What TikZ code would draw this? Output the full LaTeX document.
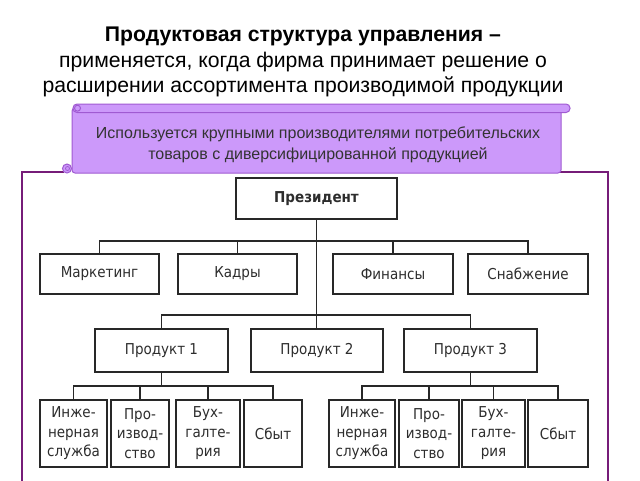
\documentclass[tikz,border=0pt]{standalone}
\usepackage{fontspec}
\setmainfont{Liberation Sans}
\newfontfamily\chartfont{DejaVu Sans Condensed}
\definecolor{scrollfill}{RGB}{204,153,250}
\definecolor{scrollline}{RGB}{160,90,210}
\definecolor{framecol}{RGB}{118,28,120}
\definecolor{chartline}{RGB}{40,40,40}
\definecolor{charttext}{RGB}{45,45,45}
\tikzset{
  scrollpart/.style={fill=scrollfill, draw=scrollline, line width=1pt},
  frameline/.style={draw=framecol, line width=2.5pt},
  box/.style={draw=chartline, line width=1.2pt, inner sep=0pt, align=center,
    text=charttext, font=\chartfont\fontsize{15}{19.5}\selectfont},
  toplevel/.style={box, minimum height=41pt},
  deptbox/.style={box, minimum height=40pt},
  prodbox/.style={box, minimum height=43pt},
  unitbox/.style={box, minimum height=67pt},
  conn/.style={draw=chartline, line width=1.2pt},
  titletext/.style={align=center, font=\fontsize{21.2}{25.5}\selectfont, text=black},
  bannertext/.style={align=center, font=\fontsize{16}{21.5}\selectfont, text=black!80}
}
\begin{document}
\begin{tikzpicture}[x=1pt,y=-1pt]
\clip (0,0) rectangle (640,480);
\fill[white] (0,0) rectangle (640,480);

% title
\node[titletext] (title) at (303,62) {\textbf{Продуктовая структура управления –}\\применяется, когда фирма принимает решение о\\расширении ассортимента производимой продукции};

% frame
\draw[frameline] (64,172) -- (22,172) -- (22,500) -- (608,500) -- (608,172) -- (558,172);

% scroll banner
\filldraw[scrollpart, rounded corners=3pt] (72,108) rectangle (561,173);
\filldraw[scrollpart, rounded corners=4pt] (73,104) rectangle (570,112.5);
\filldraw[scrollpart] (77.5,108.2) circle (3);
\filldraw[scrollpart] (67,168.5) circle (4.5);
\draw[scrollline, line width=0.8pt] (67.5,168.5) circle (2);
\node[bannertext] (banner) at (318,145) {Используется крупными производителями потребительских\\товаров с диверсифицированной продукцией};

% chart nodes
\node[toplevel, minimum width=161pt] (pres) at (316.5,198.5) {\bfseries Президент};

\node[deptbox, minimum width=119pt] (m) at (99.5,274) {Маркетинг};
\node[deptbox, minimum width=119pt] (k) at (237.5,274) {Кадры};
\node[deptbox, minimum width=120pt] (f) at (393,274) {Финансы};
\node[deptbox, minimum width=120pt] (s) at (528,274) {Снабжение};

\node[prodbox, minimum width=133pt] (p1) at (161.5,350.5) {Продукт 1};
\node[prodbox, minimum width=132pt] (p2) at (317,350.5) {Продукт 2};
\node[prodbox, minimum width=133pt] (p3) at (470.5,350.5) {Продукт 3};

\node[unitbox, minimum width=67pt] (a1) at (73.5,433.5) {Инже-\\нерная\\служба};
\node[unitbox, minimum width=58pt] (a2) at (140,433.5) {Про-\\извод-\\ство};
\node[unitbox, minimum width=64pt] (a3) at (208,433.5) {Бух-\\галте-\\рия};
\node[unitbox, minimum width=58pt] (a4) at (273,433.5) {Сбыт};

\node[unitbox, minimum width=66pt] (b1) at (362,433.5) {Инже-\\нерная\\служба};
\node[unitbox, minimum width=60pt] (b2) at (429,433.5) {Про-\\извод-\\ство};
\node[unitbox, minimum width=63pt] (b3) at (493.5,433.5) {Бух-\\галте-\\рия};
\node[unitbox, minimum width=60pt] (b4) at (558,433.5) {Сбыт};

% bus levels
\coordinate (busA) at (0,241);
\coordinate (busB) at (0,315);
\coordinate (busC) at (0,386);

% connectors
\draw[conn] (pres.south) -- (pres.south |- p2.north);
\draw[conn] (m.north) -- (m.north |- busA) -- (s.north |- busA) -- (s.north);
\draw[conn] (k.north) -- (k.north |- busA);
\draw[conn] (f.north) -- (f.north |- busA);

\draw[conn] (p1.north) -- (p1.north |- busB) -- (p3.north |- busB) -- (p3.north);

\draw[conn] (p1.south) -- (p1.south |- busC);
\draw[conn] (a1.north) -- (a1.north |- busC) -- (a4.north |- busC) -- (a4.north);
\draw[conn] (a2.north) -- (a2.north |- busC);
\draw[conn] (a3.north) -- (a3.north |- busC);

\draw[conn] (p3.south) -- (p3.south |- busC);
\draw[conn] (b1.north) -- (b1.north |- busC) -- (b4.north |- busC) -- (b4.north);
\draw[conn] (b2.north) -- (b2.north |- busC);
\draw[conn] (b3.north) -- (b3.north |- busC);
\end{tikzpicture}
\end{document}
